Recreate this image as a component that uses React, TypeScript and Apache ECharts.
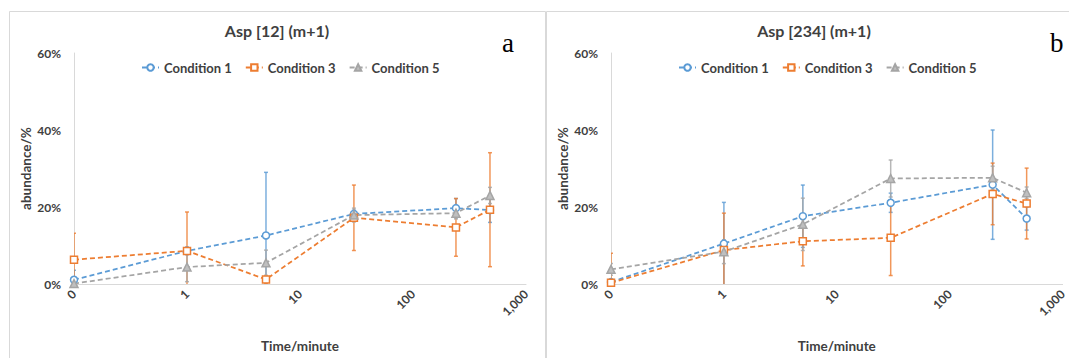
import React, { useEffect, useRef } from "react";
import * as echarts from "echarts";

// ---- data ----
const times = [0.1, 1, 5, 30, 240, 480];
const seriesNames = ["Condition 1", "Condition 3", "Condition 5"];
const xTickNote = ["0", "1", "10", "100", "1,000"];
const yTicks = [0, 20, 40, 60];

// Panel a: Asp [12] (m+1)
const a_c1 = [1.1, 8.6, 12.6, 18.2, 19.7, 19.2];
const a_c1_err = [2.5, 1.0, 16.4, 1.0, 2.5, 3.2];
const a_c3 = [6.3, 8.6, 1.2, 17.2, 14.7, 19.3];
const a_c3_err = [6.9, 10.1, 1.0, 8.5, 7.5, 14.8];
const a_c5 = [0.1, 4.4, 5.5, 17.9, 18.4, 23.0];
const a_c5_err = [0.5, 3.8, 3.3, 1.8, 1.5, 2.1];

// Panel b: Asp [234] (m+1)
const b_c1 = [0.5, 10.5, 17.6, 21.1, 25.8, 17.0];
const b_c1_err = [0.5, 10.7, 8.1, 2.5, 14.2, 3.0];
const b_c3 = [0.3, 8.8, 11.1, 12.0, 23.4, 20.9];
const b_c3_err = [7.7, 9.6, 6.4, 9.8, 8.0, 9.2];
const b_c5 = [3.8, 8.4, 15.5, 27.4, 27.6, 23.7];
const b_c5_err = [1.5, 3.1, 6.8, 4.8, 3.0, 1.5];

const titles = ["Asp [12] (m+1)", "Asp [234] (m+1)"];
const panelLetters = ["a", "b"];

const COLORS = ["#5B9BD5", "#ED7D31", "#A5A5A5"];
const SYMBOLS = ["circle", "rect", "triangle"];
const TEXT = "#404040";
const FONT = "Lato, 'Open Sans', sans-serif";

function lineSeries(name: string, idx: number, vals: number[], k: number) {
  const color = COLORS[k];
  return {
    type: "line",
    name,
    xAxisIndex: idx,
    yAxisIndex: idx,
    color,
    data: times.map((t, i) => [t, vals[i]]),
    symbol: SYMBOLS[k],
    symbolSize: k === 2 ? 8 : 7,
    showAllSymbol: true,
    lineStyle: { color, width: 1.75, type: [5, 3] },
    itemStyle: {
      color: k === 2 ? "#BFBFBF" : "#FFFFFF",
      borderColor: color,
      borderWidth: 1.5,
    },
    z: 3,
    emphasis: { disabled: true },
  };
}

function errSeries(name: string, idx: number, vals: number[], errs: number[], k: number) {
  const color = COLORS[k];
  return {
    type: "custom",
    name: "err " + name + " " + idx,
    xAxisIndex: idx,
    yAxisIndex: idx,
    clip: true,
    silent: true,
    z: 2,
    encode: { x: 0, y: [1, 2] },
    data: times.map((t, i) => [t, vals[i] - errs[i], vals[i] + errs[i]]),
    renderItem: (params: any, api: any) => {
      const x = api.value(0);
      const p1 = api.coord([x, api.value(2)]);
      const p2 = api.coord([x, api.value(1)]);
      const w = 2;
      const st = { stroke: color, lineWidth: 1.5, opacity: 0.8 };
      return {
        type: "group",
        children: [
          { type: "line", shape: { x1: p1[0], y1: p1[1], x2: p2[0], y2: p2[1] }, style: st },
          { type: "line", shape: { x1: p1[0] - w, y1: p1[1], x2: p1[0] + w, y2: p1[1] }, style: st },
          { type: "line", shape: { x1: p2[0] - w, y1: p2[1], x2: p2[0] + w, y2: p2[1] }, style: st },
        ],
      };
    },
  };
}

export default function App() {
  const ref = useRef<HTMLDivElement>(null);
  useEffect(() => {
    if (!ref.current) return;
    const chart = echarts.init(ref.current, null, { renderer: "svg" });
    const panels = [
      { vals: [a_c1, a_c3, a_c5], errs: [a_c1_err, a_c3_err, a_c5_err] },
      { vals: [b_c1, b_c3, b_c5], errs: [b_c1_err, b_c3_err, b_c5_err] },
    ];
    const offX = [0, 537];
    const series: any[] = [];
    panels.forEach((p, idx) => {
      p.vals.forEach((v, k) => series.push(errSeries(seriesNames[k], idx, v, p.errs[k], k)));
      p.vals.forEach((v, k) => series.push(lineSeries(seriesNames[k], idx, v, k)));
    });
    const xAxis = [0, 1].map((idx) => ({
      type: "log",
      logBase: 10,
      gridIndex: idx,
      min: 0.1,
      max: 1000,
      name: "Time/minute",
      nameLocation: "middle",
      nameGap: 55,
      nameTextStyle: { color: TEXT, fontWeight: "bold", fontSize: 13.5, fontFamily: FONT },
      axisLine: { show: true, lineStyle: { color: "#D9D9D9", width: 1 } },
      axisTick: { show: false },
      splitLine: { show: false },
      minorTick: { show: false },
      axisLabel: {
        rotate: 45,
        margin: 8,
        color: TEXT,
        fontWeight: "bold",
        fontSize: 12,
        fontFamily: FONT,
        formatter: (v: number) => {
          const e = Math.round(Math.log10(v)) + 1;
          return xTickNote[e] ?? String(v);
        },
      },
    }));
    const yAxis = [0, 1].map((idx) => ({
      type: "value",
      gridIndex: idx,
      min: yTicks[0],
      max: yTicks[yTicks.length - 1],
      interval: 20,
      name: "abundance/%",
      nameLocation: "middle",
      nameGap: 41,
      nameTextStyle: { color: TEXT, fontWeight: "bold", fontSize: 13.5, fontFamily: FONT },
      axisLine: { show: true, lineStyle: { color: "#D9D9D9", width: 1 } },
      axisTick: { show: false },
      splitLine: { show: false },
      axisLabel: {
        margin: 13,
        color: TEXT,
        fontWeight: "bold",
        fontSize: 12,
        fontFamily: FONT,
        formatter: (v: number) => v + "%",
      },
    }));
    const graphic: any[] = [];
    [0, 1].forEach((idx) => {
      graphic.push({
        type: "rect",
        shape: { x: 9.5 + offX[idx], y: 11.5, width: 536, height: 380 },
        style: { fill: "none", stroke: "#D9D9D9", lineWidth: 1 },
        silent: true,
        z: 0,
      });
      graphic.push({
        type: "text",
        x: 277 + offX[idx],
        y: 30,
        style: {
          text: titles[idx],
          fill: TEXT,
          font: `bold 16px ${FONT}`,
          textAlign: "center",
          textVerticalAlign: "middle",
        },
      });
    });
    graphic.push({
      type: "text",
      x: 502,
      y: 43,
      style: { text: panelLetters[0], fill: "#000", font: "27px 'Liberation Serif', 'Times New Roman', serif", textVerticalAlign: "middle" },
    });
    graphic.push({
      type: "text",
      x: 1050,
      y: 43,
      style: { text: panelLetters[1], fill: "#000", font: "27px 'Liberation Serif', 'Times New Roman', serif", textVerticalAlign: "middle" },
    });
    chart.setOption({
      animation: false,
      backgroundColor: "#FFFFFF",
      grid: [
        { left: 74, top: 53, width: 452, height: 240 },
        { left: 611, top: 53, width: 452, height: 240 },
      ],
      legend: [0, 1].map((idx) => ({
        data: seriesNames,
        left: 136 + offX[idx],
        top: 56,
        itemWidth: 17,
        itemHeight: 8,
        itemGap: 13,
        selectedMode: false,
        textStyle: { color: TEXT, fontWeight: "bold", fontSize: 13, fontFamily: FONT },
      })),
      xAxis,
      yAxis,
      series,
      graphic,
    });
    return () => chart.dispose();
  }, []);
  return (
    <div
      ref={ref}
      style={{ position: "absolute", left: 0, top: 0, width: 1069, height: 358, background: "#fff" }}
    />
  );
}
